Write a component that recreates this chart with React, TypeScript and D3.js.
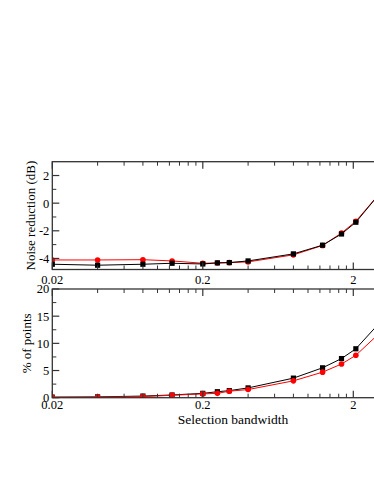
import React from 'react';
import * as d3 from 'd3';

// selection bandwidth (x, log scale)
const bandwidth = [0.02, 0.04, 0.08, 0.125, 0.2, 0.25, 0.3, 0.4, 0.8, 1.25, 1.67, 2.08, 3.33];
// noise reduction (dB)
const noiseBlack = [-4.42, -4.49, -4.42, -4.35, -4.4, -4.32, -4.3, -4.18, -3.67, -3.04, -2.23, -1.38, 1.3];
const noiseRed = [-4.11, -4.11, -4.09, -4.18, -4.35, -4.33, -4.3, -4.25, -3.74, -3.06, -2.16, -1.31, 1.3];
// % of points
const pctBlack = [0.1, 0.15, 0.3, 0.5, 0.8, 1.1, 1.3, 1.8, 3.6, 5.5, 7.2, 9.0, 15.2];
const pctRed = [0.1, 0.1, 0.2, 0.45, 0.7, 0.8, 1.2, 1.5, 3.1, 4.7, 6.2, 7.8, 13.1];

const xMajor = [0.02, 0.2, 2];
const noiseTicks = [2, 0, -2, -4];
const noiseMinor = [1, -1, -3];
const pctTicks = [0, 5, 10, 15, 20];
const pctMinor = [2.5, 7.5, 12.5, 17.5];

const W = 374;
const H = 484;
const FONT = '"Liberation Serif", "Times New Roman", serif';

const x = d3.scaleLog().domain([0.02, 4]).range([52.3, 398.6]);
const xMinor = xMajor.flatMap(m => d3.range(2, 10).map(k => k * m)).filter(v => v < 4);

type PanelProps = {
  id: string;
  y: d3.ScaleLinear<number, number>;
  top: number;
  bottom: number;
  major: number[];
  minor: number[];
  black: number[];
  red: number[];
  redOnTop: boolean;
  label: string;
  labelX: number;
  xLabelY: number;
};

const Panel = ({ id, y, top, bottom, major, minor, black, red, redOnTop, label, labelX, xLabelY }: PanelProps) => {
  const left = x.range()[0];
  const right = x.range()[1];
  const line = d3.line<number>().x((_, i) => x(bandwidth[i])).y(d => y(d));

  const blackG = (
    <g key="b">
      <path d={line(black) || ''} fill="none" stroke="#000" strokeWidth={1} />
      {black.map((v, i) => (
        <rect key={i} x={x(bandwidth[i]) - 2.6} y={y(v) - 2.6} width={5.2} height={5.2} fill="#000" />
      ))}
    </g>
  );
  const redG = (
    <g key="r">
      <path d={line(red) || ''} fill="none" stroke="#ff0000" strokeWidth={1} />
      {red.map((v, i) => (
        <circle key={i} cx={x(bandwidth[i])} cy={y(v)} r={2.8} fill="#ff0000" />
      ))}
    </g>
  );

  return (
    <g>
      <clipPath id={id}>
        <rect x={left} y={top} width={right - left} height={bottom - top} />
      </clipPath>
      <g clipPath={`url(#${id})`}>{redOnTop ? [blackG, redG] : [redG, blackG]}</g>
      <rect x={left} y={top} width={right - left} height={bottom - top} fill="none" stroke="#333" strokeWidth={1.3} />
      {xMajor.map(v => (
        <g key={v}>
          <line x1={x(v)} x2={x(v)} y1={top} y2={top + 7} stroke="#333" strokeWidth={1.2} />
          <line x1={x(v)} x2={x(v)} y1={bottom} y2={bottom - 7} stroke="#333" strokeWidth={1.2} />
          <text x={x(v)} y={xLabelY} textAnchor="middle" fontSize={12.5} fontFamily={FONT}>{v}</text>
        </g>
      ))}
      {xMinor.map(v => (
        <g key={v}>
          <line x1={x(v)} x2={x(v)} y1={top} y2={top + 4} stroke="#333" strokeWidth={1} />
          <line x1={x(v)} x2={x(v)} y1={bottom} y2={bottom - 4} stroke="#333" strokeWidth={1} />
        </g>
      ))}
      {major.map(v => (
        <g key={v}>
          <line x1={left} x2={left + 7} y1={y(v)} y2={y(v)} stroke="#333" strokeWidth={1.2} />
          <text x={left - 3} y={y(v)} dy="0.35em" textAnchor="end" fontSize={12.5} fontFamily={FONT}>{v}</text>
        </g>
      ))}
      {minor.map(v => (
        <line key={v} x1={left} x2={left + 4} y1={y(v)} y2={y(v)} stroke="#333" strokeWidth={1} />
      ))}
      <text
        transform={`translate(${labelX},${(top + bottom) / 2}) rotate(-90)`}
        textAnchor="middle"
        fontSize={13}
        fontFamily={FONT}
      >
        {label}
      </text>
    </g>
  );
};

export default function App() {
  const yNoise = d3.scaleLinear().domain([-4.8, 3]).range([269.5, 161.7]);
  const yPct = d3.scaleLinear().domain([0, 20]).range([397.7, 289]);

  return (
    <svg width={W} height={H} style={{ position: 'absolute', left: 0, top: 0, background: '#fff' }}>
      <rect width={W} height={H} fill="#fff" />
      <Panel
        id="clipTop"
        y={yNoise}
        top={161.7}
        bottom={269.5}
        major={noiseTicks}
        minor={noiseMinor}
        black={noiseBlack}
        red={noiseRed}
        redOnTop={false}
        label="Noise reduction (dB)"
        labelX={35}
        xLabelY={284}
      />
      <Panel
        id="clipBottom"
        y={yPct}
        top={289}
        bottom={397.7}
        major={pctTicks}
        minor={pctMinor}
        black={pctBlack}
        red={pctRed}
        redOnTop={true}
        label="% of points"
        labelX={31}
        xLabelY={409}
      />
      <text x={233} y={424} textAnchor="middle" fontSize={13.5} fontFamily={FONT}>
        Selection bandwidth
      </text>
    </svg>
  );
}
